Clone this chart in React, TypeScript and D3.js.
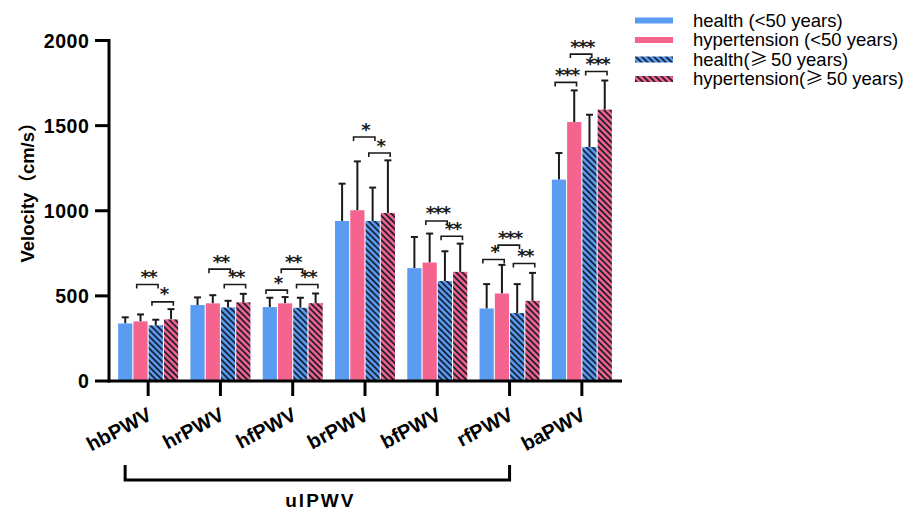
import React from "react";
import * as d3 from "d3";

// categories and groups
const categories = ["hbPWV", "hrPWV", "hfPWV", "brPWV", "bfPWV", "rfPWV", "baPWV"];
const seriesKeys = ["hl50", "ht50", "hg50", "htg50"];

// means (cm/s)
const healthUnder50 = [338, 446, 434, 940, 663, 426, 1183];
const hyperUnder50 = [350, 456, 456, 1003, 696, 514, 1521];
const healthOver50 = [327, 432, 430, 940, 587, 399, 1374];
const hyperOver50 = [362, 462, 457, 987, 641, 471, 1594];

// standard deviations (upper error bars)
const healthUnder50Sd = [36, 45, 55, 219, 183, 143, 156];
const hyperUnder50Sd = [41, 48, 37, 287, 170, 168, 186];
const healthOver50Sd = [33, 39, 59, 196, 175, 170, 190];
const hyperOver50Sd = [60, 50, 57, 309, 166, 164, 171];

const yTicks = [0, 500, 1000, 1500, 2000];

// significance brackets: category, from bar, to bar, height (cm/s), label
const sigCat = ["hbPWV", "hbPWV", "hrPWV", "hrPWV", "hfPWV", "hfPWV", "hfPWV", "brPWV", "brPWV", "bfPWV", "bfPWV", "rfPWV", "rfPWV", "rfPWV", "baPWV", "baPWV", "baPWV"];
const sigFrom = [1, 2, 1, 2, 0, 1, 2, 1, 2, 1, 2, 0, 1, 2, 0, 1, 2];
const sigTo = [2, 3, 2, 3, 1, 2, 3, 2, 3, 2, 3, 1, 2, 3, 1, 2, 3];
const sigLevel = [567, 465, 657, 567, 534, 657, 567, 1433, 1339, 940, 850, 714, 798, 690, 1754, 1920, 1818];
const sigLabel = ["**", "*", "**", "**", "*", "**", "**", "*", "*", "***", "**", "*", "***", "**", "***", "***", "***"];

const legendLabels = ["health (<50 years)", "hypertension (<50 years)", "health(", "hypertension("];

const BLUE = "#5a9cf2";
const PINK = "#f4648f";
const INK = "#1a1a1a";
const FONT = "'Liberation Sans', Arial, 'Noto Sans CJK SC', sans-serif";

export default function App() {
  const width = 913;
  const height = 512;

  const means = [healthUnder50, hyperUnder50, healthOver50, hyperOver50];
  const sds = [healthUnder50Sd, hyperUnder50Sd, healthOver50Sd, hyperOver50Sd];
  const colors = [BLUE, PINK, BLUE, PINK];
  const hatched = [false, false, true, true];

  const y = d3.scaleLinear().domain([0, 2000]).range([381, 40.5]);
  const x = d3.scaleBand<string>().domain(categories).range([112, 618]).paddingInner(0.17).paddingOuter(0.085);
  const xs = d3.scaleBand<string>().domain(seriesKeys).range([0, x.bandwidth()]).paddingInner(0.07);
  const barCenter = (cat: string, k: number) => (x(cat) ?? 0) + (xs(seriesKeys[k]) ?? 0) + xs.bandwidth() / 2;

  const axisLeft = 109;
  const axisRight = 622;
  const base = y(0);

  const fill = (k: number) => (hatched[k] ? `url(#hatch-${k})` : colors[k]);

  return (
    <svg width={width} height={height} style={{ position: "absolute", left: 0, top: 0, background: "#fff" }} fontFamily={FONT}>
      <defs>
        {[2, 3].map((k) => (
          <pattern key={k} id={`hatch-${k}`} patternUnits="userSpaceOnUse" width={4.3} height={4.3} patternTransform="rotate(-45)">
            <rect width={4.3} height={4.3} fill={colors[k]} />
            <line x1={1} y1={0} x2={1} y2={4.3} stroke="#101828" strokeWidth={1.7} />
          </pattern>
        ))}
      </defs>

      {/* bars */}
      {categories.map((cat, i) => (
        <g key={cat}>
          {seriesKeys.map((key, k) => {
            const bx = (x(cat) ?? 0) + (xs(key) ?? 0);
            const v = means[k][i];
            const top = y(v + sds[k][i]);
            const cx = barCenter(cat, k);
            return (
              <g key={key}>
                <line x1={cx} x2={cx} y1={y(v)} y2={top} stroke={INK} strokeWidth={2} />
                <line x1={cx - 3.5} x2={cx + 3.5} y1={top} y2={top} stroke={INK} strokeWidth={2} />
                <rect x={bx} y={y(v)} width={xs.bandwidth()} height={base - y(v)} fill={fill(k)} />
              </g>
            );
          })}
        </g>
      ))}

      {/* significance brackets */}
      {sigCat.map((cat, j) => {
        const x1 = barCenter(cat, sigFrom[j]) - 0.25 * xs.step();
        const x2 = barCenter(cat, sigTo[j]) + 0.15 * xs.step();
        const yy = y(sigLevel[j]);
        return (
          <g key={j}>
            <path d={`M${x1},${yy + 4}V${yy}H${x2}V${yy + 4}`} fill="none" stroke={INK} strokeWidth={1.6} />
            <text
              x={(x1 + x2) / 2 + 1}
              y={yy - 1.5}
              textAnchor="middle"
              fontSize={18}
              fontWeight="bold"
              letterSpacing={-1.5}
              fontFamily="'DejaVu Sans', sans-serif"
              fill={INK}
            >
              {sigLabel[j]}
            </text>
          </g>
        );
      })}

      {/* y axis */}
      <line x1={axisLeft} x2={axisLeft} y1={y(2000) - 1.5} y2={base + 1.5} stroke="#000" strokeWidth={3} />
      {yTicks.map((t) => (
        <g key={t}>
          <line x1={95} x2={axisLeft} y1={y(t)} y2={y(t)} stroke="#000" strokeWidth={3} />
          <text x={89.5} y={y(t) + 7} textAnchor="end" fontSize={19.5} fontWeight="bold" letterSpacing={0.6} fill="#000">
            {t}
          </text>
        </g>
      ))}
      <text transform={`translate(34,188) rotate(-90)`} textAnchor="middle" fontSize={18.5} fontWeight="bold" fill="#000">
        Velocity（cm/s）
      </text>

      {/* x axis */}
      <line x1={axisLeft - 1.5} x2={axisRight} y1={base} y2={base} stroke="#000" strokeWidth={3} />
      {categories.map((cat) => {
        const cx = (x(cat) ?? 0) + x.bandwidth() / 2;
        return (
          <g key={cat}>
            <line x1={cx} x2={cx} y1={base} y2={396} stroke="#000" strokeWidth={3} />
            <text transform={`translate(${cx + 5},419) rotate(-28)`} textAnchor="end" fontSize={20} fontWeight="bold" fill="#000">
              {cat}
            </text>
          </g>
        );
      })}

      {/* ulPWV group bracket */}
      {(() => {
        const l = (x(categories[0]) ?? 0) + 7;
        const r = (x(categories[5]) ?? 0) + x.bandwidth() / 2;
        return (
          <g>
            <path d={`M${l},465V480H${r}V465`} fill="none" stroke="#000" strokeWidth={3} />
            <text x={(l + r) / 2 + 3} y={507} textAnchor="middle" fontSize={19} fontWeight="bold" letterSpacing={2} fill="#000">
              ulPWV
            </text>
          </g>
        );
      })()}

      {/* legend */}
      {legendLabels.map((lab, k) => {
        const cy = 20.5 + k * 19.5;
        return (
          <g key={k}>
            <rect x={635} y={cy - 3} width={38} height={6} fill={fill(k)} />
            <text x={693} y={cy + 6} fontSize={18.5} fill="#000">
              {lab}
              {hatched[k] && (
                <>
                  <tspan fontFamily="'Noto Sans CJK SC'">≥</tspan>
                  <tspan dx={3}>50 years)</tspan>
                </>
              )}
            </text>
          </g>
        );
      })}
    </svg>
  );
}
